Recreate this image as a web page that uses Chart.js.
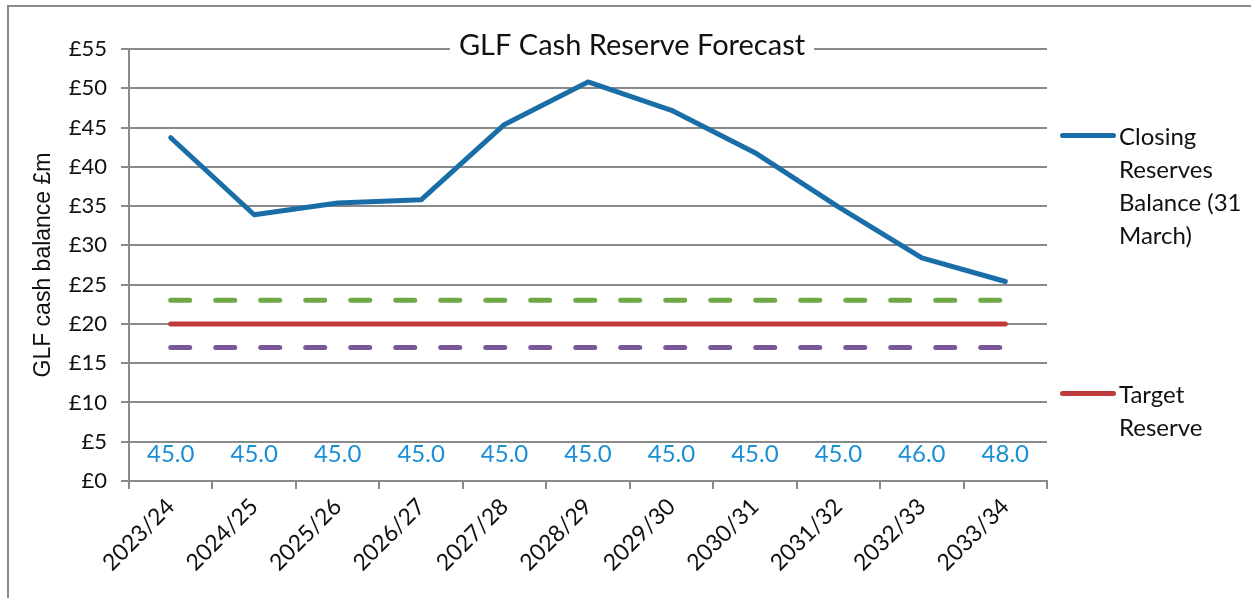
<!DOCTYPE html>
<html>
<head>
<meta charset="utf-8">
<script src="https://cdn.jsdelivr.net/npm/chart.js@4"></script>
<style>
  body { margin: 0; background: #fff; }
  #wrap { position: relative; width: 1251px; height: 598px; overflow: hidden; }
  #frame { position: absolute; left: 7px; top: 5px; width: 1400px; height: 800px;
           border-left: 2px solid #8a8a8a; border-top: 2px solid #8a8a8a; }
  canvas { position: absolute; left: 0; top: 0; }
  .leg { position: absolute; left: 1060px; font: 24px Lato, sans-serif; color: #111; line-height: 33px; }
  .leg .swatch { position: absolute; left: 0; top: 14px; width: 56px; height: 5px; border-radius: 3px; }
  .leg .txt { margin-left: 59px; }
</style>
</head>
<body>
<div id="wrap">
  <div id="frame"></div>
  <canvas id="reserveChart" width="1251" height="598"></canvas>
  <div class="leg" style="top:119px"><span class="swatch" style="background:#1a6ea8"></span><div class="txt">Closing<br>Reserves<br>Balance (31<br>March)</div></div>
  <div class="leg" style="top:377px"><span class="swatch" style="background:#c0393b"></span><div class="txt">Target<br>Reserve</div></div>
</div>
<script>
const years = ['2023/24', '2024/25', '2025/26', '2026/27', '2027/28', '2028/29', '2029/30', '2030/31', '2031/32', '2032/33', '2033/34'];
const closingReserves = [43.7, 33.9, 35.4, 35.8, 45.4, 50.8, 47.2, 41.8, 34.9, 28.4, 25.4];
const upperBand = [23, 23, 23, 23, 23, 23, 23, 23, 23, 23, 23];
const targetReserve = [20, 20, 20, 20, 20, 20, 20, 20, 20, 20, 20];
const lowerBand = [17, 17, 17, 17, 17, 17, 17, 17, 17, 17, 17];
const rowLabels = [45.0, 45.0, 45.0, 45.0, 45.0, 45.0, 45.0, 45.0, 45.0, 46.0, 48.0];
const yTicks = [0, 5, 10, 15, 20, 25, 30, 35, 40, 45, 50, 55];

const GRID = '#8a8a8a';

// row of blue numbers along the bottom of the plot
const rowLabelPlugin = {
  id: 'rowLabels',
  afterDatasetsDraw(chart) {
    const { ctx, scales: { x, y } } = chart;
    ctx.save();
    ctx.font = '24px Lato, sans-serif';
    ctx.fillStyle = '#1a8fd6';
    ctx.textAlign = 'center';
    ctx.textBaseline = 'middle';
    rowLabels.forEach((v, i) => {
      ctx.fillText(v.toFixed(1), x.getPixelForValue(i), y.getPixelForValue(3.4));
    });
    ctx.restore();
  }
};

// title sits on the top border of the plot area
const titlePlugin = {
  id: 'inlineTitle',
  afterDraw(chart) {
    const { ctx, chartArea } = chart;
    const text = 'GLF Cash Reserve Forecast';
    ctx.save();
    ctx.font = '29px Lato, sans-serif';
    const w = ctx.measureText(text).width;
    const cx = (chartArea.left + chartArea.right) / 2 + 44;
    ctx.fillStyle = '#fff';
    ctx.fillRect(cx - w / 2 - 9, chartArea.top - 20, w + 18, 36);
    ctx.fillStyle = '#111';
    ctx.textAlign = 'center';
    ctx.textBaseline = 'middle';
    ctx.fillText(text, cx, chartArea.top - 3);
    ctx.restore();
  }
};

function lineSet(label, data, color, dash) {
  return {
    label, data,
    borderColor: color,
    backgroundColor: color,
    borderWidth: 5,
    borderDash: dash || [],
    borderCapStyle: 'round',
    borderJoinStyle: 'round',
    pointRadius: 0,
    tension: 0,
    fill: false
  };
}

new Chart(document.getElementById('reserveChart'), {
  type: 'line',
  data: {
    labels: years,
    datasets: [
      lineSet('Upper', upperBand, '#6fa945', [19, 26]),
      lineSet('Lower', lowerBand, '#7a5799', [19, 26]),
      lineSet('Target Reserve', targetReserve, '#c0393b'),
      lineSet('Closing Reserves Balance (31 March)', closingReserves, '#1a6ea8')
    ]
  },
  options: {
    responsive: false,
    animation: false,
    layout: { padding: { left: 22, top: 49, right: 204, bottom: 0 } },
    plugins: { legend: { display: false }, title: { display: false }, tooltip: { enabled: false } },
    scales: {
      x: {
        offset: true,
        afterFit: s => { s.height = 117; },
        grid: {
          offset: true,
          drawOnChartArea: true,
          color: c => c.index === years.length ? GRID : 'rgba(0,0,0,0)',
          tickColor: GRID,
          lineWidth: 2,
          tickLength: 8
        },
        border: { display: true, color: GRID, width: 2 },
        ticks: {
          color: '#111',
          font: { family: 'Lato', size: 23 },
          maxRotation: 45, minRotation: 45,
          padding: 4
        }
      },
      y: {
        min: 0, max: 55,
        afterFit: s => { s.width = 107; },
        afterBuildTicks: s => { s.ticks = yTicks.map(v => ({ value: v })); },
        grid: { color: GRID, lineWidth: 2, tickLength: 8 },
        border: { display: true, color: GRID, width: 2 },
        ticks: {
          color: '#111',
          font: { family: 'Lato', size: 22 },
          padding: 14,
          callback: v => '£' + v
        },
        title: {
          display: true,
          text: 'GLF cash balance £m',
          color: '#111',
          font: { family: 'Liberation Sans', size: 23 },
          padding: { top: 8, bottom: 0 }
        }
      }
    }
  },
  plugins: [rowLabelPlugin, titlePlugin]
});
</script>
</body>
</html>
